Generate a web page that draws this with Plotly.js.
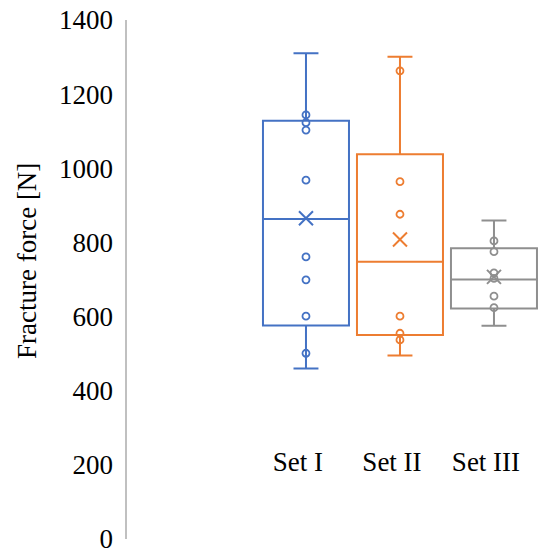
<!DOCTYPE html>
<html>
<head>
<meta charset="utf-8">
<script src="https://cdn.plot.ly/plotly-3.0.1.min.js"></script>
<style>html,body{margin:0;padding:0;background:#fff;}#chart{width:550px;height:558px;}</style>
</head>
<body>
<div id="chart"></div>
<script>
var categories = ["Set I", "Set II", "Set III"];
var colors = ["#4472C4", "#ED7D31", "#8f8f8f"];
var q1 = [576, 550, 622];
var medians = [863, 748, 700];
var q3 = [1128, 1038, 784];
var lowerWhisker = [460, 495, 575];
var upperWhisker = [1310, 1301, 859];
var means = [865, 808, 707];
var pointsSet1 = [1144, 1123, 1103, 968, 761, 699, 601, 501];
var pointsSet2 = [1263, 964, 876, 601, 555, 537];
var pointsSet3 = [804, 775, 718, 703, 655, 624];
var innerPoints = [pointsSet1, pointsSet2, pointsSet3];
var yTickVals = [0, 200, 400, 600, 800, 1000, 1200, 1400];
var yTitle = "Fracture force [N]";

var FONT = "Liberation Serif, Times New Roman, serif";
var traces = [];
categories.forEach(function (c, i) {
  traces.push({
    type: "box",
    x: [c],
    q1: [q1[i]],
    median: [medians[i]],
    q3: [q3[i]],
    lowerfence: [lowerWhisker[i]],
    upperfence: [upperWhisker[i]],
    boxpoints: false,
    width: 0.915,
    whiskerwidth: 0.29,
    fillcolor: "rgba(0,0,0,0)",
    line: { color: colors[i], width: 2 },
    hoverinfo: "skip",
    showlegend: false
  });
  traces.push({
    type: "scatter",
    mode: "markers",
    x: innerPoints[i].map(function () { return c; }),
    y: innerPoints[i],
    marker: { symbol: "circle-open", size: 7, color: colors[i], line: { width: 1.8, color: colors[i] } },
    hoverinfo: "skip",
    showlegend: false
  });
  traces.push({
    type: "scatter",
    mode: "markers",
    x: [c],
    y: [means[i]],
    marker: { symbol: "x-thin-open", size: 14, color: colors[i], line: { width: 2, color: colors[i] } },
    hoverinfo: "skip",
    showlegend: false
  });
});

var layout = {
  width: 550,
  height: 558,
  margin: { l: 127, r: 0, t: 20, b: 19 },
  paper_bgcolor: "#fff",
  plot_bgcolor: "#fff",
  showlegend: false,
  boxmode: "overlay",
  font: { family: FONT, color: "#000", size: 27 },
  xaxis: {
    type: "category",
    categoryorder: "array",
    categoryarray: categories,
    range: [-1.904, 2.596],
    anchor: "free",
    position: 0.185,
    showline: false,
    showgrid: false,
    zeroline: false,
    ticks: "",
    ticklabelshift: -8,
    tickfont: { family: FONT, size: 27, color: "#000" }
  },
  yaxis: {
    range: [0, 1400],
    tickvals: yTickVals,
    ticktext: yTickVals.map(String),
    showgrid: false,
    zeroline: false,
    showline: true,
    linecolor: "#c0c0c0",
    linewidth: 2.5,
    ticks: "",
    ticklabelstandoff: 6,
    automargin: false,
    tickfont: { family: FONT, size: 27, color: "#000" }
  },
  annotations: [{
    text: yTitle,
    xref: "paper", yref: "paper",
    x: -0.2364, y: 0.5356,
    xanchor: "center", yanchor: "middle",
    textangle: -90,
    showarrow: false,
    font: { family: FONT, size: 27, color: "#000" }
  }]
};

Plotly.newPlot("chart", traces, layout, { staticPlot: true, displayModeBar: false });
</script>
</body>
</html>
